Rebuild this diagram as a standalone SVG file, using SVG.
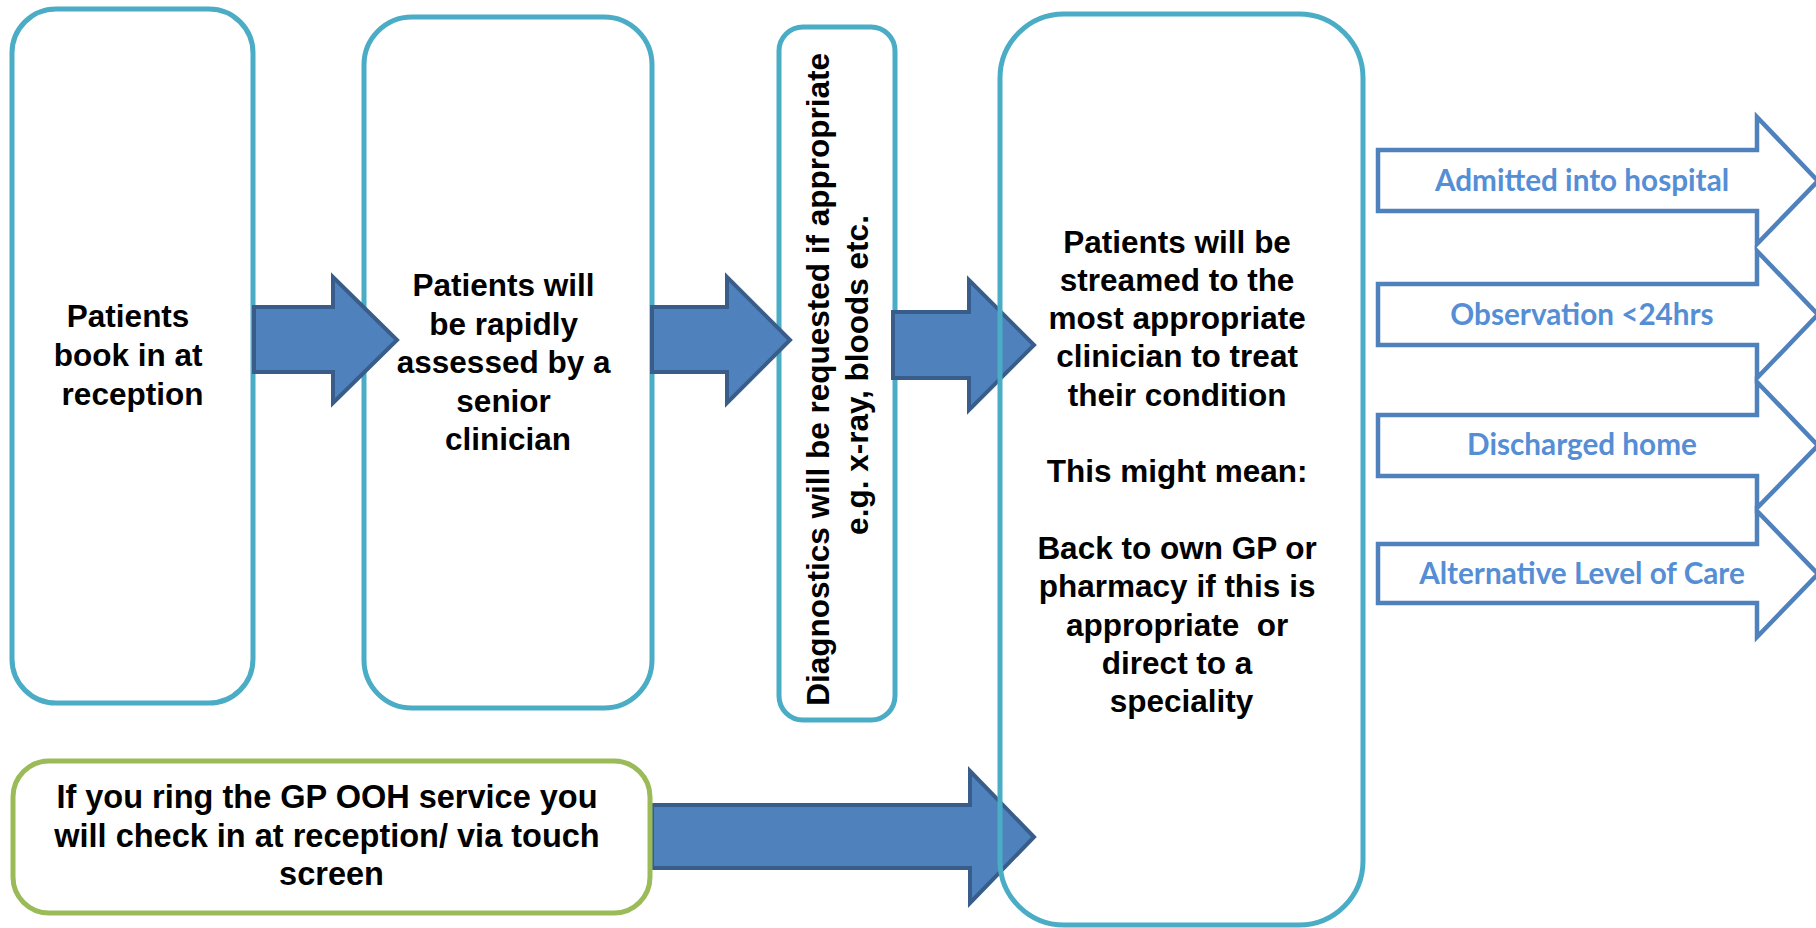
<svg xmlns="http://www.w3.org/2000/svg" width="1816" height="928" viewBox="0 0 1816 928">
  <style>
    .box { fill: none; stroke: #4BACC6; stroke-width: 5; }
    .gbox { fill: none; stroke: #9BBB59; stroke-width: 5; }
    .flow { fill: #4F81BD; stroke: #385D8A; stroke-width: 4; stroke-linejoin: miter; }
    .out { fill: #FFFFFF; stroke: #4F81BD; stroke-width: 4.5; stroke-linejoin: miter; }
    .t { font-family: "Liberation Sans", Arial, sans-serif; font-weight: bold; font-size: 31.5px; fill: #000000; text-anchor: middle; }
    .ot { font-family: Lato, "Open Sans", sans-serif; font-weight: bold; font-size: 29.7px; fill: #558ED5; text-anchor: middle; }
  </style>
  <rect x="0" y="0" width="1816" height="928" fill="#FFFFFF"/>

  <!-- Step 1: reception -->
  <g id="node-reception">
    <rect class="box" x="12" y="9" width="241" height="694" rx="44" ry="44"/>
    <text class="t">
      <tspan x="132.5" y="327">Patients</tspan>
      <tspan x="132.5" y="366">book in at</tspan>
      <tspan x="132.5" y="405">reception</tspan>
    </text>
  </g>

  <!-- Step 2: senior clinician assessment -->
  <g id="node-assessment">
    <rect class="box" x="364" y="17" width="288" height="691" rx="48" ry="48"/>
    <text class="t">
      <tspan x="508" y="296">Patients will</tspan>
      <tspan x="508" y="334.5">be rapidly</tspan>
      <tspan x="508" y="373">assessed by a</tspan>
      <tspan x="508" y="411.5">senior</tspan>
      <tspan x="508" y="450">clinician</tspan>
    </text>
  </g>

  <!-- Step 3: diagnostics (vertical text) -->
  <g id="node-diagnostics">
    <rect class="box" x="779" y="27" width="116" height="693" rx="24" ry="24"/>
    <text class="t" transform="translate(829 375) rotate(-90)">
      <tspan x="0" y="0">Diagnostics will be requested if appropriate</tspan>
      <tspan x="0" y="39">e.g. x-ray, bloods etc.</tspan>
    </text>
  </g>

  <!-- Block arrows between steps -->
  <g id="connectors">
    <path class="flow" d="M254 307 H333 V277 L397 340 L333 403 V372 H254 Z"/>
    <path class="flow" d="M652 307 H727 V277 L790 340 L727 403 V372 H652 Z"/>
    <path class="flow" d="M893 312 H969 V280 L1034 345 L969 410 V378 H893 Z"/>
    <path class="flow" d="M652 805 H970 V771 L1034 837 L970 903 V868 H652 Z"/>
  </g>

  <!-- Step 4: streaming -->
  <g id="node-streaming">
    <rect class="box" x="1000" y="14" width="363" height="911" rx="64" ry="64"/>
    <text class="t">
      <tspan x="1181.5" y="252.5">Patients will be</tspan>
      <tspan x="1181.5" y="290.8">streamed to the</tspan>
      <tspan x="1181.5" y="329.1">most appropriate</tspan>
      <tspan x="1181.5" y="367.4">clinician to treat</tspan>
      <tspan x="1181.5" y="405.7">their condition</tspan>
      <tspan x="1181.5" y="482.3">This might mean:</tspan>
      <tspan x="1181.5" y="558.9">Back to own GP or</tspan>
      <tspan x="1181.5" y="597.2">pharmacy if this is</tspan>
      <tspan x="1181.5" y="635.5" xml:space="preserve">appropriate  or</tspan>
      <tspan x="1181.5" y="673.8">direct to a</tspan>
      <tspan x="1181.5" y="712.1">speciality</tspan>
    </text>
  </g>

  <!-- GP out-of-hours entry -->
  <g id="node-gp-ooh">
    <rect class="gbox" x="13" y="761" width="637" height="152" rx="36" ry="36"/>
    <text class="t" style="font-size:32.5px">
      <tspan x="331.5" y="808">If you ring the GP OOH service you</tspan>
      <tspan x="331.5" y="846.5">will check in at reception/ via touch</tspan>
      <tspan x="331.5" y="885">screen</tspan>
    </text>
  </g>

  <!-- Outcomes -->
  <g id="outcome-admitted">
    <path class="out" d="M1378 150 H1757 V117 L1818 181 L1757 244 V211 H1378 Z"/>
    <text class="ot" x="1582" y="191">Admitted into hospital</text>
  </g>
  <g id="outcome-observation">
    <path class="out" d="M1378 284 H1757 V251 L1818 314.5 L1757 378 V345 H1378 Z"/>
    <text class="ot" x="1582" y="325">Observation &lt;24hrs</text>
  </g>
  <g id="outcome-discharged">
    <path class="out" d="M1378 415 H1757 V382 L1818 445.5 L1757 508 V476 H1378 Z"/>
    <text class="ot" x="1582" y="455">Discharged home</text>
  </g>
  <g id="outcome-alternative">
    <path class="out" d="M1378 544 H1757 V511 L1818 574 L1757 637 V603 H1378 Z"/>
    <text class="ot" x="1582" y="584">Alternative Level of Care</text>
  </g>
</svg>
